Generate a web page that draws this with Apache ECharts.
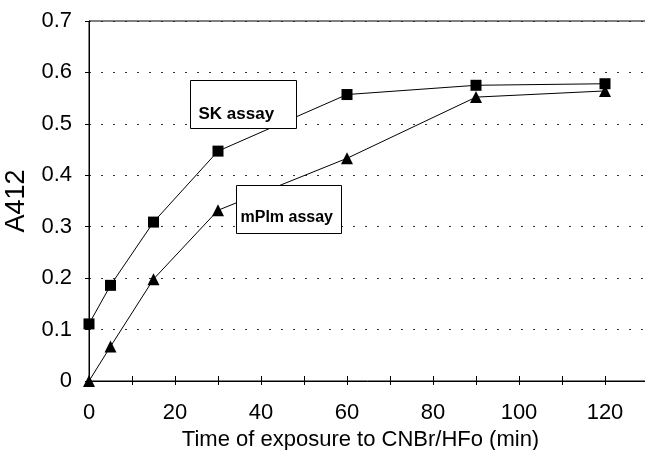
<!DOCTYPE html>
<html>
<head>
<meta charset="utf-8">
<script src="https://cdn.jsdelivr.net/npm/echarts@6.0.0/dist/echarts.min.js"></script>
<style>
  html, body { margin: 0; padding: 0; background: #fff; }
  #chart { width: 645px; height: 450px; }
</style>
</head>
<body>
<div id="chart"></div>
<script>
// exposure time (min)
const timeMin = [0, 5, 15, 30, 60, 90, 120];
// A412 readings
const skAssay = [0.111, 0.186, 0.309, 0.447, 0.557, 0.575, 0.578];
const mPlmAssay = [0, 0.067, 0.198, 0.332, 0.433, 0.552, 0.564];
const seriesNames = ['SK assay', 'mPlm assay'];

const FONT = '"Liberation Sans", Arial, Helvetica, sans-serif';

// label boxes, corners given in data units
const notes = [
  { text: 'SK assay', from: [23.6, 0.585], to: [48.2, 0.491], size: 17, dx: 8, dy: 34 },
  { text: 'mPlm assay', from: [34.3, 0.381], to: [58.7, 0.287], size: 16, dx: 4, dy: 32 }
];

const chart = echarts.init(document.getElementById('chart'));

const toPairs = ys => timeMin.map((t, i) => [t, ys[i]]);

const option = {
  animation: false,
  grid: {
    left: 89, top: 21, width: 559, height: 360,
    outerBoundsMode: 'none', containLabel: false,
    show: true, borderColor: '#000', borderWidth: 1, backgroundColor: 'transparent'
  },
  xAxis: [
    {
      type: 'value', min: 0, max: 130, interval: 10, position: 'bottom',
      axisLine: { lineStyle: { color: '#000', width: 1 } },
      axisTick: { length: 4, lineStyle: { color: '#000' } },
      axisLabel: {
        margin: 21, fontSize: 22, color: '#000', fontFamily: FONT,
        formatter: v => (v % 20 === 0 && v <= 120 ? String(v) : '')
      },
      splitLine: { show: false },
      name: 'Time of exposure to CNBr/HFo (min)',
      nameLocation: 'middle', nameGap: 43,
      nameTextStyle: { fontSize: 22, color: '#000', fontFamily: FONT, padding: [0, 16, 0, 0] }
    },
    {
      // ticks crossing the bottom axis (inner half)
      type: 'value', min: 0, max: 130, interval: 10, position: 'top', offset: -360,
      axisLine: { show: false },
      axisTick: { length: 5, lineStyle: { color: '#000' } },
      axisLabel: { show: false },
      splitLine: { show: false }
    }
  ],
  yAxis: {
    type: 'value', min: 0, max: 0.7, interval: 0.1,
    axisLine: { show: true, lineStyle: { color: '#000', width: 1 } },
    axisTick: { show: true, length: 4, lineStyle: { color: '#000' } },
    axisLabel: {
      margin: 17, fontSize: 22, color: '#000', fontFamily: FONT,
      formatter: v => (v === 0 ? '0' : v.toFixed(1))
    },
    splitLine: { show: true, lineStyle: { color: '#333', width: 1, type: [2, 10] } },
    name: 'A412', nameLocation: 'middle', nameGap: 55,
    nameTextStyle: { fontSize: 27, color: '#000', fontFamily: FONT }
  },
  series: [
    {
      name: seriesNames[0], type: 'line', data: toPairs(skAssay),
      symbol: 'rect', symbolSize: 11, showAllSymbol: true,
      itemStyle: { color: '#000' }, lineStyle: { color: '#000', width: 1 }, z: 3
    },
    {
      name: seriesNames[1], type: 'line', data: toPairs(mPlmAssay),
      symbol: 'triangle', symbolSize: 12, showAllSymbol: true,
      itemStyle: { color: '#000' }, lineStyle: { color: '#000', width: 1 }, z: 3
    }
  ]
};

chart.setOption(option);

// boxed labels on top of the curves
const graphic = notes.map(n => {
  const p0 = chart.convertToPixel({ xAxisIndex: 0, yAxisIndex: 0 }, n.from);
  const p1 = chart.convertToPixel({ xAxisIndex: 0, yAxisIndex: 0 }, n.to);
  const x = Math.round(p0[0]) + 0.5, y = Math.round(p0[1]) + 0.5;
  return {
    type: 'group', z: 100,
    children: [
      {
        type: 'rect', z: 100,
        shape: { x: x, y: y, width: Math.round(p1[0] - p0[0]), height: Math.round(p1[1] - p0[1]) },
        style: { fill: '#fff', stroke: '#000', lineWidth: 1 }
      },
      {
        type: 'text', z: 101,
        style: {
          x: x + n.dx, y: y + n.dy, text: n.text, fill: '#000',
          font: 'bold ' + n.size + 'px ' + FONT, verticalAlign: 'middle'
        }
      }
    ]
  };
});
chart.setOption({ graphic: graphic });
</script>
</body>
</html>
